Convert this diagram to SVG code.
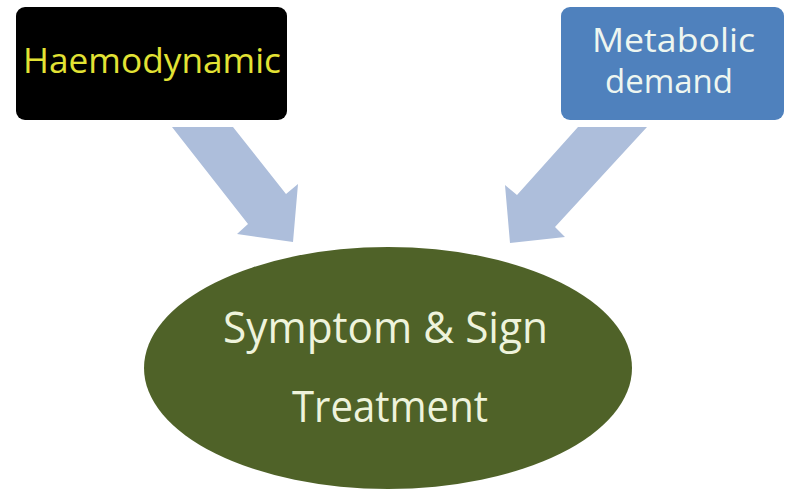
<svg xmlns="http://www.w3.org/2000/svg" width="790" height="491" viewBox="0 0 790 491">
  <style>
    .lbl { font-family: "Open Sans", "Liberation Sans", sans-serif; text-anchor: middle; }
    .arrow { fill: #adbedb; }
  </style>
  <rect width="790" height="491" fill="#ffffff"/>
  <g id="connectors">
    <polygon class="arrow" points="172,127 233,127 286,194 298,184 293,242 237,234 248,224"/>
    <polygon class="arrow" points="578,127 647,127 555,227 565,237 510,243 505,185 517,195"/>
  </g>
  <g id="haemodynamic">
    <rect x="16" y="7" width="271" height="113" rx="9" fill="#000000"/>
    <text class="lbl" x="152" y="73" font-size="34" fill="#e2e234" textLength="258" lengthAdjust="spacingAndGlyphs">Haemodynamic</text>
  </g>
  <g id="metabolic">
    <rect x="561" y="7" width="223" height="113" rx="9" fill="#4f81bd"/>
    <text class="lbl" x="673.5" y="52" font-size="32" fill="#eef6f0" textLength="163" lengthAdjust="spacingAndGlyphs">Metabolic</text>
    <text class="lbl" x="669" y="93" font-size="32" fill="#eef6f0" textLength="128" lengthAdjust="spacingAndGlyphs">demand</text>
  </g>
  <g id="symptom">
    <ellipse cx="388" cy="368" rx="244" ry="121" fill="#4f6228"/>
    <text class="lbl" x="385.5" y="343" font-size="43" fill="#eef3dc" textLength="325" lengthAdjust="spacingAndGlyphs">Symptom &amp; Sign</text>
    <text class="lbl" x="390" y="422" font-size="43" fill="#eef3dc" textLength="196" lengthAdjust="spacingAndGlyphs">Treatment</text>
  </g>
</svg>
